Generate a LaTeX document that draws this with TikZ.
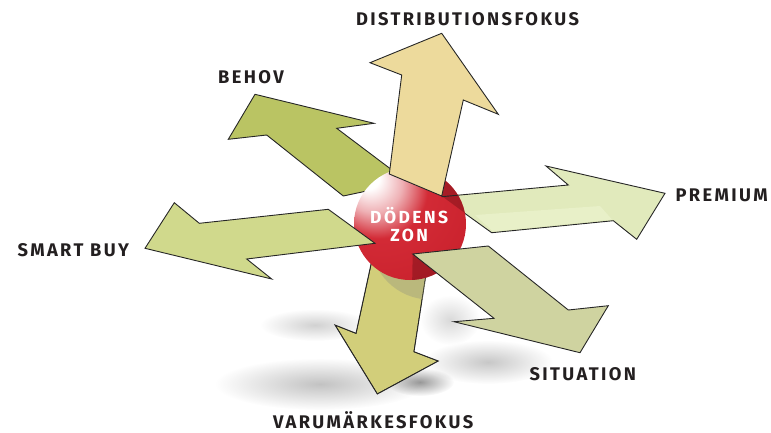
\documentclass[tikz,border=0pt]{standalone}
\usepackage{fontspec}
\setmainfont{Fira Sans}
\newfontfamily\labfnt[LetterSpace=13]{Fira Sans}
\newfontfamily\zonfnt[LetterSpace=14]{Fira Sans}
\usetikzlibrary{fadings}
\tikzfading[name=softblob, inner color=transparent!0, outer color=transparent!100]
\definecolor{sphred}{HTML}{D01F2B}
\definecolor{labgray}{HTML}{231F20}
\definecolor{cSmart}{HTML}{D0D98C}
\definecolor{cBehov}{HTML}{BAC463}
\definecolor{cDist}{HTML}{EDDA9C}
\definecolor{cPrem}{HTML}{E1EABC}
\definecolor{cPremL}{HTML}{E8F0C8}
\definecolor{cSit}{HTML}{CFD3A0}
\definecolor{cVaru}{HTML}{D2CE7A}
\definecolor{cVaruS}{HTML}{BAB87C}
\pgfdeclareradialshading{sphereshade}{\pgfpoint{-20bp}{22bp}}{color(0bp)=(white); color(5bp)=(white); color(13bp)=(sphred!35!white); color(22bp)=(sphred!95!white); color(50bp)=(sphred!95!black); color(75bp)=(sphred!78!black)}
\newcommand\labfont{\labfnt\bfseries\fontsize{18.3}{18.3}\selectfont}
\newcommand\zonfont{\zonfnt\bfseries\fontsize{17.5}{17.5}\selectfont}
\tikzset{
  arr/.style={draw=black!85, line width=0.9pt, line join=miter},
  lab/.style={font=\labfont, text=labgray, anchor=base, inner sep=0pt},
  zon/.style={font=\zonfont, text=white, anchor=base, inner sep=0pt},
  softshadow/.style={fill=black, path fading=softblob}
}
\begin{document}
\begin{tikzpicture}[x=1pt,y=-1pt]
\useasboundingbox (0,0) rectangle (771,432);
% soft ground shadows
\fill[softshadow, fill opacity=0.24] (320,384) ellipse [x radius=105, y radius=26];
\fill[softshadow, fill opacity=0.18] (315,325) ellipse [x radius=55, y radius=16];
\fill[softshadow, fill opacity=0.22] (488,362) ellipse [x radius=65, y radius=22];
\fill[softshadow, fill opacity=0.40] (420,382) ellipse [x radius=34, y radius=14];
\fill[softshadow, fill opacity=0.15] (450,320) ellipse [x radius=30, y radius=25];
% Behov
\draw[arr, fill=cBehov] (255,94.3) -- (374,123.3) -- (336.7,128.3) -- (392,170) -- (395,185) -- (343.3,196) -- (266.7,135) -- (228.3,139.3) -- cycle;
% Premium
\draw[arr, fill=cPrem] (441.7,196.7) -- (568.3,185) -- (546,166) -- (665,193.3) -- (636.7,239.3) -- (613.3,220.7) -- (491.7,232.7) -- cycle;
\fill[cPremL] (475,215) -- (600,206) -- (612,219.5) -- (493,231.5) -- cycle;
% Varumarkesfokus
\draw[arr, fill=cVaru] (373,255) -- (356,333.3) -- (335,325) -- (377.3,394) -- (438.3,361) -- (414,351.7) -- (429,255) -- cycle;
\begin{scope}
  \clip (373,255) -- (356,333.3) -- (335,325) -- (377.3,394) -- (438.3,361) -- (414,351.7) -- (429,255) -- cycle;
  \fill[cVaruS] (430,240) circle [radius=59.5];
  \draw[arr, fill=none] (373,255) -- (356,333.3) -- (335,325) -- (377.3,394) -- (438.3,361) -- (414,351.7) -- (429,255);
\end{scope}
% sphere
\shade[shading=sphereshade] (410,224) circle [radius=56];
\begin{scope}
  \clip (410,224) circle [radius=56];
  \fill[sphred!60!black, fill opacity=0.5] (441.7,196) -- (463.3,100) -- (520,100) -- (520,260) -- (491.7,232.7) -- cycle;
  \fill[sphred!55!black, fill opacity=0.45] (412.7,254) -- (445,280) -- (412,290) -- cycle;
  \draw[arr] (441.7,196.7) -- (568.3,185);
\end{scope}
% Distributionsfokus
\draw[arr, fill=cDist] (441.7,33.3) -- (498.3,114.3) -- (463.3,100) -- (441.7,196) -- (389.3,174) -- (401.7,75) -- (370,62.7) -- cycle;
% Situation
\draw[arr, fill=cSit] (412.7,254) -- (488.3,246) -- (568.3,310) -- (608.3,305.7) -- (580,352.7) -- (454,321.7) -- (494,318.3) -- cycle;
% Smart buy
\draw[arr, fill=cSmart] (145,248.3) -- (174.3,202.7) -- (199.3,223.3) -- (328.3,209.3) -- (375,243.3) -- (246.7,259) -- (271.7,279) -- cycle;
% labels
\node[lab] (dist) at (467.5,25) {DISTRIBUTIONSFOKUS};
\node[lab] (behov) at (251,83.3) {BEHOV};
\node[lab] (smart) at (73.3,256.7) {SMART BUY};
\node[lab] (prem) at (721.7,201) {PREMIUM};
\node[lab] (sit) at (582.8,380) {SITUATION};
\node[lab] (varu) at (373.3,428.3) {VARUMÄRKESFOKUS};
\node[zon] (dz1) at (409.2,223.3) {DÖDENS};
\node[zon] (dz2) at (409.2,241.7) {ZON};
\end{tikzpicture}
\end{document}
